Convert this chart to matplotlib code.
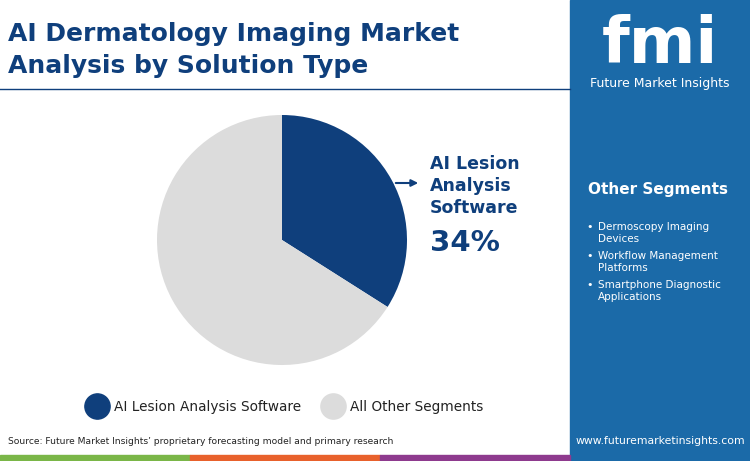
import matplotlib.pyplot as plt
from matplotlib.patches import Rectangle

labels = ["AI Lesion Analysis Software", "All Other Segments"]
shares = [34, 66]
colors = ["#0f3f7c", "#dcdcdc"]
other_segments = ["Dermoscopy Imaging\nDevices", "Workflow Management\nPlatforms",
                  "Smartphone Diagnostic\nApplications"]

W, H = 750, 461
fig = plt.figure(figsize=(7.5, 4.61), dpi=100)
bg = fig.add_axes([0, 0, 1, 1])
bg.set_xlim(0, W)
bg.set_ylim(H, 0)
bg.axis("off")
bg.set_zorder(2)
bg.patch.set_alpha(0)

# right panel
bg.add_patch(Rectangle((570, 0), 180, H, color="#1b6aa8"))
bg.text(660, 45, "fmi", color="white", fontsize=46, fontweight="bold", ha="center", va="center")
bg.text(660, 84, "Future Market Insights", color="white", fontsize=9, ha="center", va="center")
bg.text(658, 189, "Other Segments", color="white", fontsize=11, fontweight="bold", ha="center", va="center")
y = 222
for s in other_segments:
    bg.text(586, y, "•", color="white", fontsize=8, va="top")
    bg.text(598, y, s, color="white", fontsize=7.5, va="top", linespacing=1.25)
    y += 29
bg.text(660, 441, "www.futuremarketinsights.com", color="white", fontsize=7.8, ha="center", va="center")

# title
bg.text(8, 34, "AI Dermatology Imaging Market", color="#0f3f7c", fontsize=18, fontweight="bold", va="center")
bg.text(8, 66, "Analysis by Solution Type", color="#0f3f7c", fontsize=18, fontweight="bold", va="center")
bg.plot([0, 570], [89, 89], color="#0f3f7c", lw=1)

# footer
bg.text(8, 441, "Source: Future Market Insights’ proprietary forecasting model and primary research",
        fontsize=6.6, color="#222222", va="center")
for x0, c in [(0, "#7ab648"), (190, "#e8612c"), (380, "#8e3a8e")]:
    bg.add_patch(Rectangle((x0, 455), 190, 6, color=c))

# pie
ax = fig.add_axes([157 / W, 1 - 365 / H, 250 / W, 250 / H])
ax.pie(shares, colors=colors, startangle=90, counterclock=False,
       wedgeprops=dict(linewidth=0))
ax.set_xlim(-1, 1)
ax.set_ylim(-1, 1)
ax.set_aspect("equal")

# annotation
bg.annotate("", xy=(421, 183), xytext=(393, 183),
            arrowprops=dict(arrowstyle="-|>", color="#0f3f7c", lw=1.5))
bg.text(430, 186, "AI Lesion\nAnalysis\nSoftware", color="#0f3f7c", fontsize=12.5,
        fontweight="bold", va="center", linespacing=1.3)
bg.text(430, 243, "34%", color="#0f3f7c", fontsize=21, fontweight="bold", va="center")

# legend
for x0, lab, c in [(97, labels[0], colors[0]), (333, labels[1], colors[1])]:
    bg.scatter([x0], [406], s=330, color=c)
    bg.text(x0 + 17, 407, lab, fontsize=9.8, color="#222222", va="center")

fig.savefig("out.png", dpi=100)
